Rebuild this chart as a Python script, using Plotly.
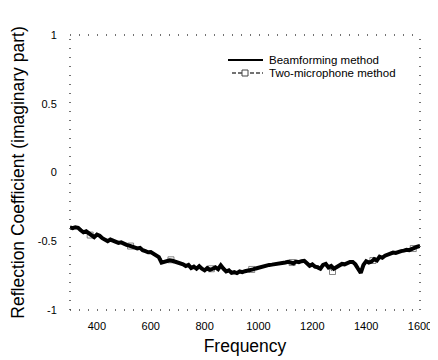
import plotly.graph_objects as go

# Beamforming method, 300..1600 Hz every 10 Hz
bf_freq = list(range(300, 1601, 10))
bf_vals = [
    -0.400, -0.405, -0.398, -0.402, -0.420, -0.435, -0.428, -0.445, -0.462, -0.470,
    -0.452, -0.460, -0.478, -0.492, -0.500, -0.488, -0.497, -0.505, -0.512, -0.508,
    -0.520, -0.526, -0.532, -0.540, -0.545, -0.552, -0.548, -0.565, -0.572, -0.580,
    -0.578, -0.593, -0.600, -0.615, -0.655, -0.648, -0.640, -0.638, -0.642, -0.648,
    -0.652, -0.660, -0.668, -0.680, -0.672, -0.695, -0.685, -0.700, -0.682, -0.700,
    -0.712, -0.695, -0.708, -0.700, -0.690, -0.703, -0.675, -0.700, -0.720, -0.712,
    -0.730, -0.725, -0.732, -0.720, -0.725, -0.718, -0.715, -0.708, -0.705, -0.698,
    -0.692, -0.685, -0.680, -0.678, -0.672, -0.670, -0.668, -0.662, -0.660, -0.662,
    -0.655, -0.650, -0.658, -0.660, -0.648, -0.652, -0.645, -0.642, -0.660, -0.678,
    -0.668, -0.685, -0.690, -0.700, -0.672, -0.665, -0.690, -0.680, -0.700, -0.688,
    -0.675, -0.665, -0.668, -0.655, -0.650, -0.650, -0.668, -0.700, -0.730, -0.672,
    -0.645, -0.655, -0.648, -0.630, -0.640, -0.612, -0.620, -0.605, -0.598, -0.590,
    -0.582, -0.585, -0.575, -0.572, -0.568, -0.562, -0.565, -0.555, -0.548, -0.540,
    -0.535,
]

# Two-microphone method, 300..1600 Hz every 25 Hz
tm_freq = list(range(300, 1601, 25))
tm_vals = [
    -0.395, -0.395, -0.430, -0.455, -0.455, -0.482, -0.490, -0.505, -0.515, -0.535,
    -0.550, -0.565, -0.585, -0.610, -0.640, -0.635, -0.650, -0.670, -0.685, -0.690,
    -0.700, -0.700, -0.695, -0.715, -0.720, -0.725, -0.715, -0.705, -0.690, -0.678,
    -0.668, -0.660, -0.655, -0.655, -0.650, -0.640, -0.670, -0.680, -0.655, -0.720,
    -0.675, -0.660, -0.645, -0.725, -0.645, -0.640, -0.615, -0.600, -0.585, -0.575,
    -0.565, -0.553, -0.530,
]

series_names = ["Beamforming method", "Two-microphone method"]
x_ticks = [400, 600, 800, 1000, 1200, 1400, 1600]
y_ticks = [-1, -0.5, 0, 0.5, 1]
y_tick_text = ["-1", "-0.5", "0", "0.5", "1"]

FONT = "Liberation Sans, Arial, sans-serif"
OFF = 8  # page body margin
W, H = 438 - OFF, 360 - OFF
L, R, T, B = 70 - OFF, 18, 35 - OFF, 50
PW, PH = W - L - R, H - T - B


def px(xp):
    # page pixel x -> paper fraction
    return (xp - OFF - L) / PW


def py(yp):
    # page pixel y -> paper fraction
    return (H + OFF - B - yp) / PH


fig = go.Figure()
fig.add_trace(go.Scatter(
    x=tm_freq, y=tm_vals, name=series_names[1], mode="lines+markers",
    line=dict(color="#666666", width=1.2, dash="dash"),
    marker=dict(symbol="square-open", color="#555555",
                size=[6 if i % 6 == 3 else 0 for i in range(len(tm_vals))],
                line=dict(width=1)),
    showlegend=False,
))
fig.add_trace(go.Scatter(
    x=bf_freq, y=bf_vals, name=series_names[0], mode="lines",
    line=dict(color="black", width=4),
    showlegend=False,
))

frame = dict(color="#444444", width=1.5, dash="1px,8px")
shapes = [
    dict(type="line", xref="paper", yref="paper", x0=0, x1=1, y0=0, y1=0, line=frame),
    dict(type="line", xref="paper", yref="paper", x0=0, x1=1, y0=1, y1=1, line=frame),
    dict(type="line", xref="paper", yref="paper", x0=0, x1=0, y0=0, y1=1, line=frame),
    dict(type="line", xref="paper", yref="paper", x0=1, x1=1, y0=0, y1=1, line=frame),
    # manual legend samples
    dict(type="line", xref="paper", yref="paper", x0=px(228), x1=px(263),
         y0=py(60), y1=py(60), line=dict(color="black", width=2)),
    dict(type="line", xref="paper", yref="paper", x0=px(232), x1=px(263),
         y0=py(73), y1=py(73), line=dict(color="#444444", width=1.5, dash="4px,2px")),
    dict(type="rect", xref="paper", yref="paper", x0=px(242), x1=px(248),
         y0=py(76), y1=py(70), line=dict(color="#444444", width=1), fillcolor="white"),
]

annotations = [
    dict(text=series_names[0], xref="paper", yref="paper", x=px(267), y=py(60),
         xanchor="left", yanchor="middle", showarrow=False, font=dict(size=11.5)),
    dict(text=series_names[1], xref="paper", yref="paper", x=px(267), y=py(73),
         xanchor="left", yanchor="middle", showarrow=False, font=dict(size=11.5)),
]

fig.update_layout(
    width=W, height=H,
    margin=dict(l=L, r=R, t=T, b=B),
    paper_bgcolor="white", plot_bgcolor="white",
    font=dict(family=FONT, color="black"),
    shapes=shapes, annotations=annotations,
    showlegend=False,
    xaxis=dict(range=[300, 1600], tickvals=x_ticks, showgrid=False, zeroline=False,
               showline=False, ticks="outside", ticklen=6, tickcolor="rgba(0,0,0,0)",
               tickfont=dict(size=11), automargin=False,
               title=dict(text="Frequency", font=dict(size=17.5), standoff=8)),
    yaxis=dict(range=[-1, 1], tickvals=y_ticks, ticktext=y_tick_text, showgrid=False,
               zeroline=False, showline=False, ticks="outside", ticklen=10,
               tickcolor="rgba(0,0,0,0)", tickfont=dict(size=11), automargin=False,
               title=dict(text="Reflection Coefficient (imaginary part)",
                          font=dict(size=17.5), standoff=8)),
)

fig.write_html("out.html")
